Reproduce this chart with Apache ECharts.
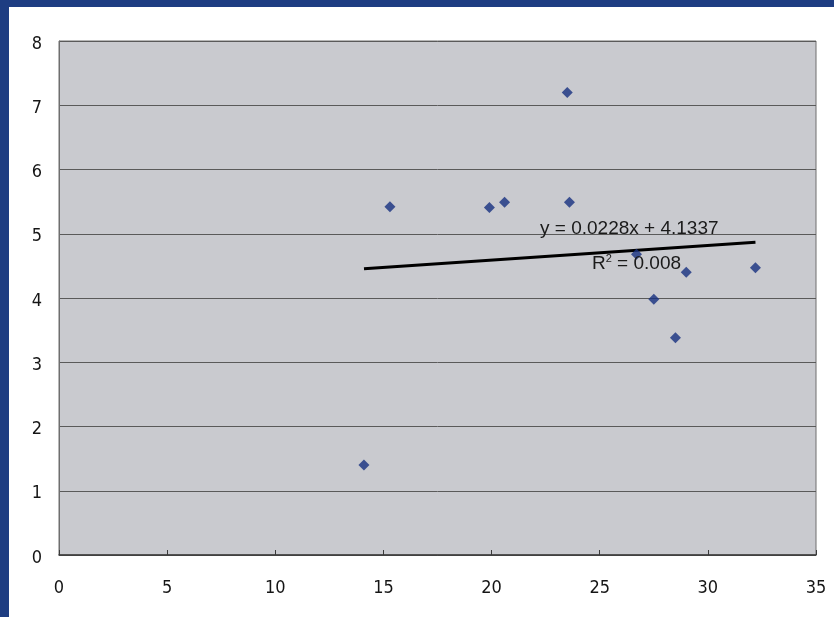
<!DOCTYPE html>
<html>
<head>
<meta charset="utf-8">
<script src="https://cdn.jsdelivr.net/npm/echarts@6/dist/echarts.min.js"></script>
<style>
  html, body { margin: 0; padding: 0; width: 834px; height: 617px; overflow: hidden; background: #1e3d82; }
  #panel { position: absolute; left: 9px; top: 7px; width: 825px; height: 610px; background: #ffffff; }
  #chart { width: 825px; height: 610px; }
</style>
</head>
<body>
<div id="panel"><div id="chart"></div></div>
<script>
// Observations: x and y of each point
const xValues = [14.1, 15.3, 19.9, 20.6, 23.5, 23.6, 26.7, 27.5, 28.5, 29.0, 32.2];
const yValues = [1.40, 5.42, 5.41, 5.49, 7.20, 5.49, 4.68, 3.98, 3.38, 4.40, 4.47];

// Linear trend fitted to the observations
const trendSlope = 0.0228;
const trendIntercept = 4.1337;
const trendR2 = 0.008;

// Axis ticks
const xTicks = [0, 5, 10, 15, 20, 25, 30, 35];
const yTicks = [0, 1, 2, 3, 4, 5, 6, 7, 8];

const points = xValues.map((x, i) => [x, yValues[i]]);
const xLo = Math.min(...xValues);
const xHi = Math.max(...xValues);
const trend = [xLo, xHi].map(x => [x, trendSlope * x + trendIntercept]);

const axisFont = '"Liberation Sans Narrow", "DejaVu Sans Condensed", "Liberation Sans", sans-serif';

const chart = echarts.init(document.getElementById('chart'), null, { renderer: 'canvas' });
chart.setOption({
  animation: false,
  grid: {
    left: 50, top: 34, right: 18, bottom: 62,
    show: true,
    backgroundColor: '#c9cacf',
    borderColor: '#6e6e6e',
    borderWidth: 1
  },
  xAxis: {
    type: 'value',
    min: xTicks[0], max: xTicks[xTicks.length - 1], interval: 5,
    axisLine: { show: true, lineStyle: { color: '#3a3a3a', width: 1.5 } },
    axisTick: { show: true, inside: true, length: 5, lineStyle: { color: '#3a3a3a' } },
    splitLine: { show: false },
    axisLabel: { color: '#151515', fontSize: 18, fontFamily: axisFont, margin: 24 }
  },
  yAxis: {
    type: 'value',
    min: yTicks[0], max: yTicks[yTicks.length - 1], interval: 1,
    axisLine: { show: true, lineStyle: { color: '#6e6e6e' } },
    axisTick: { show: false },
    splitLine: { show: true, lineStyle: { color: '#5a5a5a', width: 1 } },
    axisLabel: {
      margin: 17,
      formatter: '{v|{value}}',
      rich: {
        v: { color: '#151515', fontSize: 18, fontFamily: axisFont, padding: [6, 0, 0, 0] }
      }
    }
  },
  series: [
    {
      type: 'line',
      data: trend,
      symbol: 'none',
      lineStyle: { color: '#000000', width: 3 },
      z: 3
    },
    {
      type: 'scatter',
      data: points,
      symbol: 'diamond',
      symbolSize: 11,
      itemStyle: { color: '#17307f' },
      z: 4
    }
  ],
  graphic: [
    {
      type: 'text',
      left: 531, top: 212,
      z: 10,
      style: {
        text: 'y = ' + trendSlope + 'x + ' + trendIntercept,
        fill: '#1a1a1a',
        font: '19px "Liberation Sans", Arial, sans-serif'
      }
    },
    {
      type: 'text',
      left: 583, top: 246,
      z: 10,
      style: {
        rich: {
          r: { fill: '#1a1a1a', font: '19px "Liberation Sans", Arial, sans-serif' },
          s: { fill: '#1a1a1a', font: '11px "Liberation Sans", Arial, sans-serif', verticalAlign: 'top', padding: [0, 0, 10, 0] }
        },
        text: '{r|R}{s|2}{r| = ' + trendR2.toFixed(3) + '}'
      }
    }
  ]
});
</script>
</body>
</html>
